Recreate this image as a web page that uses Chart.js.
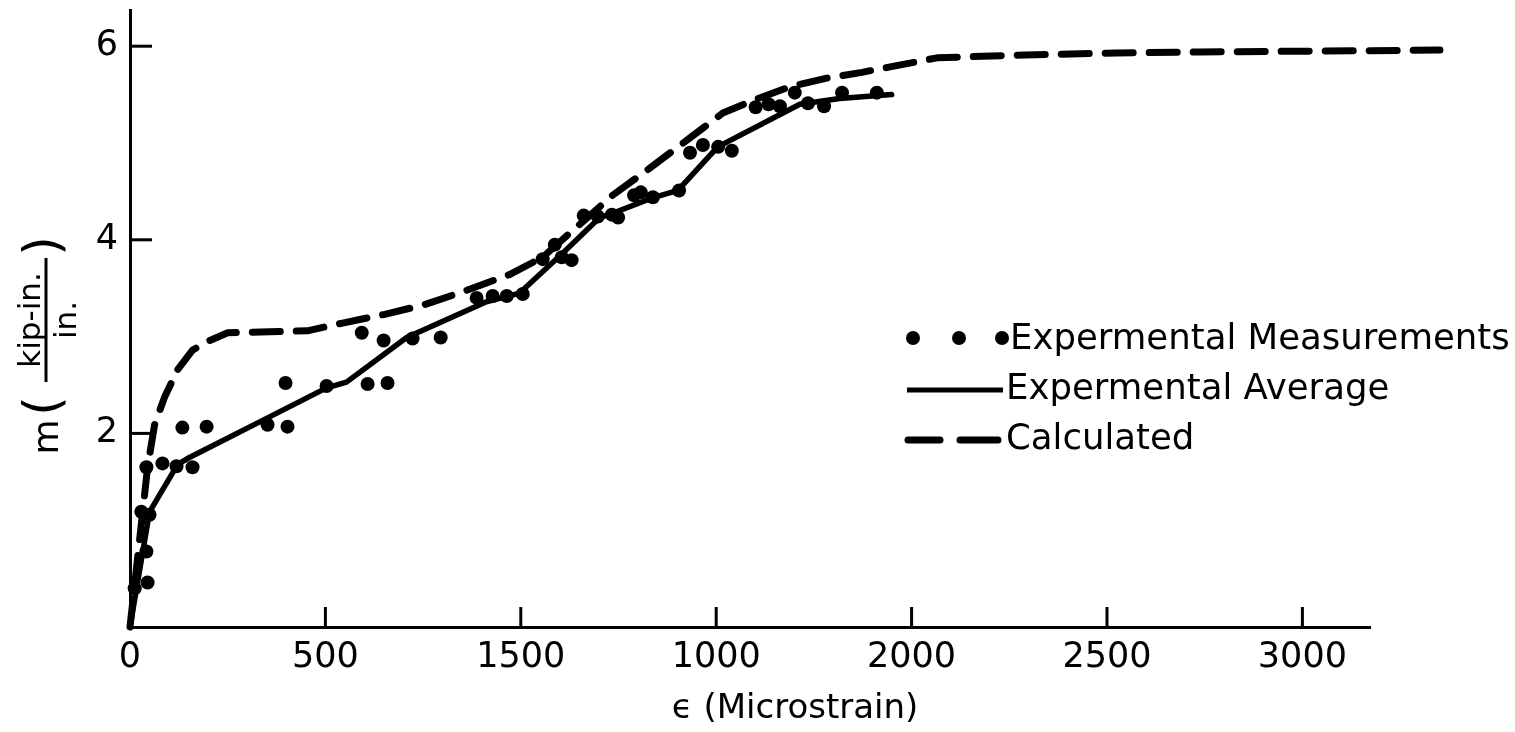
<!DOCTYPE html>
<html><head><meta charset="utf-8">
<script src="https://cdn.jsdelivr.net/npm/chart.js@4.4.1/dist/chart.umd.min.js"></script>
<style>html,body{margin:0;padding:0;background:#fff;overflow:hidden}#wrap{width:1515px;height:732px;position:relative}</style>
</head><body><div id="wrap"><canvas id="c" width="1515" height="732"></canvas></div>
<script>
// ---- data ----
const xTickValues = [0, 500, 1000, 1500, 2000, 2500, 3000];
const xTickLabels = ["0", "500", "1500", "1000", "2000", "2500", "3000"];
const yTickValues = [2, 4, 6];
const yTickLabels = ["2", "4", "6"];

const measX = [12,45,42,29,50,42,83,119,160,134,196,352,403,398,503,608,659,593,649,723,795,887,928,964,1005,1056,1087,1105,1130,1161,1197,1233,1249,1290,1307,1338,1405,1433,1466,1505,1540,1601,1634,1663,1701,1735,1776,1822,1911];
const measY = [0.40,0.46,0.78,1.19,1.16,1.65,1.69,1.66,1.65,2.06,2.07,2.09,2.07,2.52,2.49,2.51,2.52,3.04,2.96,2.98,2.99,3.40,3.42,3.42,3.44,3.80,3.95,3.82,3.79,4.25,4.24,4.26,4.23,4.46,4.49,4.44,4.51,4.90,4.98,4.96,4.92,5.37,5.40,5.38,5.52,5.41,5.38,5.52,5.52];

const avgX = [0,50,122,147,352,503,554,708,912,997,1107,1202,1245,1335,1402,1504,1714,1816,1949];
const avgY = [0,1.19,1.68,1.74,2.16,2.47,2.53,2.99,3.36,3.45,3.86,4.23,4.29,4.43,4.51,4.96,5.40,5.46,5.50];

const calcX = [0,45,63,88,122,160,204,250,357,454,544,652,754,849,971,1056,1120,1235,1330,1432,1517,1594,1688,1783,1873,2065,2290,2525,2738,3352];
const calcY = [0,1.65,2.09,2.37,2.66,2.86,2.96,3.04,3.05,3.06,3.14,3.23,3.33,3.46,3.64,3.82,4.05,4.46,4.74,5.05,5.31,5.44,5.58,5.67,5.73,5.88,5.91,5.93,5.94,5.96];

const seriesNames = ["Expermental Measurements", "Expermental Average", "Calculated"];
const xTitle = "ϵ (Microstrain)";
const yTitleSymbol = "m";
const yTitleNum = "kip-in.";
const yTitleDen = "in.";

// ---- chart ----
const FONT = "'DejaVu Sans', sans-serif";
const toPts = (xs, ys) => xs.map((x, i) => ({x: x, y: ys[i]}));

const decor = {
  id: 'decor',
  beforeDraw(chart) {
    const ctx = chart.ctx;
    ctx.save(); ctx.fillStyle = '#fff'; ctx.fillRect(0, 0, chart.width, chart.height); ctx.restore();
  },
  afterDraw(chart) {
    const ctx = chart.ctx, xs = chart.scales.x, ys = chart.scales.y, a = chart.chartArea;
    ctx.save();
    ctx.strokeStyle = '#000'; ctx.fillStyle = '#000'; ctx.lineWidth = 3; ctx.lineCap = 'butt';
    // inward tick marks
    xs.ticks.forEach(t => {
      if (t.value === 0) return;
      const px = xs.getPixelForValue(t.value);
      ctx.beginPath(); ctx.moveTo(px, a.bottom); ctx.lineTo(px, a.bottom - 20); ctx.stroke();
    });
    ys.ticks.forEach(t => {
      const py = ys.getPixelForValue(t.value);
      ctx.beginPath(); ctx.moveTo(a.left, py); ctx.lineTo(a.left + 22, py); ctx.stroke();
    });
    // legend
    ctx.font = '35.5px ' + FONT; ctx.textAlign = 'left'; ctx.textBaseline = 'middle';
    [913, 959, 1002].forEach(x => { ctx.beginPath(); ctx.arc(x, 338, 7, 0, Math.PI * 2); ctx.fill(); });
    ctx.fillText(seriesNames[0], 1010, 340);
    ctx.lineWidth = 5;
    ctx.beginPath(); ctx.moveTo(907, 390); ctx.lineTo(1003, 390); ctx.stroke();
    ctx.fillText(seriesNames[1], 1006, 390);
    ctx.lineWidth = 7; ctx.lineCap = 'round';
    ctx.beginPath(); ctx.moveTo(908, 440); ctx.lineTo(940, 440); ctx.moveTo(960, 440); ctx.lineTo(998, 440); ctx.stroke();
    ctx.fillText(seriesNames[2], 1006, 440);
    // x title
    ctx.font = '34px ' + FONT;
    ctx.textAlign = 'center';
    ctx.fillText(xTitle, 795, 709);
    // y title (rotated)
    ctx.translate(46, 350);
    ctx.rotate(-Math.PI / 2);
    ctx.textAlign = 'center'; ctx.textBaseline = 'alphabetic';
    ctx.font = '36px ' + FONT;
    ctx.fillText(yTitleSymbol, -87, 12);
    ctx.font = '50px ' + FONT; ctx.textBaseline = 'middle';
    ctx.fillText("(", -56, 0);
    ctx.fillText(")", 104, 0);
    ctx.fillRect(-32, -1.5, 124, 3);
    ctx.font = '31px ' + FONT;
    ctx.textBaseline = 'alphabetic';
    ctx.fillText(yTitleNum, 30, -6);
    ctx.textBaseline = 'top';
    ctx.fillText(yTitleDen, 30, 6);
    ctx.restore();
  }
};

new Chart(document.getElementById('c'), {
  type: 'scatter',
  data: {
    datasets: [
      { label: seriesNames[0], data: toPts(measX, measY), showLine: false,
        pointRadius: 7, pointHoverRadius: 7, pointBackgroundColor: '#000', pointBorderColor: '#000', pointBorderWidth: 0, clip: false },
      { label: seriesNames[1], data: toPts(avgX, avgY), showLine: true, borderColor: '#000', borderWidth: 5.5,
        pointRadius: 0, tension: 0, borderJoinStyle: 'round', borderCapStyle: 'round', clip: false },
      { label: seriesNames[2], data: toPts(calcX, calcY), showLine: true, borderColor: '#000', borderWidth: 7,
        borderDash: [28, 16], borderCapStyle: 'round', borderJoinStyle: 'round', pointRadius: 0, tension: 0, clip: false }
    ]
  },
  options: {
    responsive: false, animation: false, devicePixelRatio: 1,
    layout: { padding: { top: 10, right: 145, left: 0, bottom: 0 } },
    plugins: { legend: { display: false }, tooltip: { enabled: false }, title: { display: false } },
    scales: {
      x: {
        type: 'linear', min: 0, max: 3173,
        afterBuildTicks: s => { s.ticks = xTickValues.map(v => ({value: v})); },
        afterFit: s => { s.height = 105; s.paddingLeft = 0; s.paddingRight = 0; },
        grid: { display: false, drawTicks: false },
        border: { display: true, color: '#000', width: 3 },
        ticks: { autoSkip: false, maxRotation: 0, padding: 10, color: '#000',
          font: { family: FONT, size: 35 },
          callback: (v, i) => xTickLabels[i] }
      },
      y: {
        type: 'linear', min: 0, max: 6.374,
        afterBuildTicks: s => { s.ticks = yTickValues.map(v => ({value: v})); },
        afterFit: s => { s.width = 130; s.paddingTop = 0; s.paddingBottom = 0; },
        grid: { display: false, drawTicks: false },
        border: { display: true, color: '#000', width: 3 },
        ticks: { padding: 12, color: '#000', font: { family: FONT, size: 35 },
          callback: (v, i) => yTickLabels[i] }
      }
    }
  },
  plugins: [decor]
});
</script>
</body></html>
